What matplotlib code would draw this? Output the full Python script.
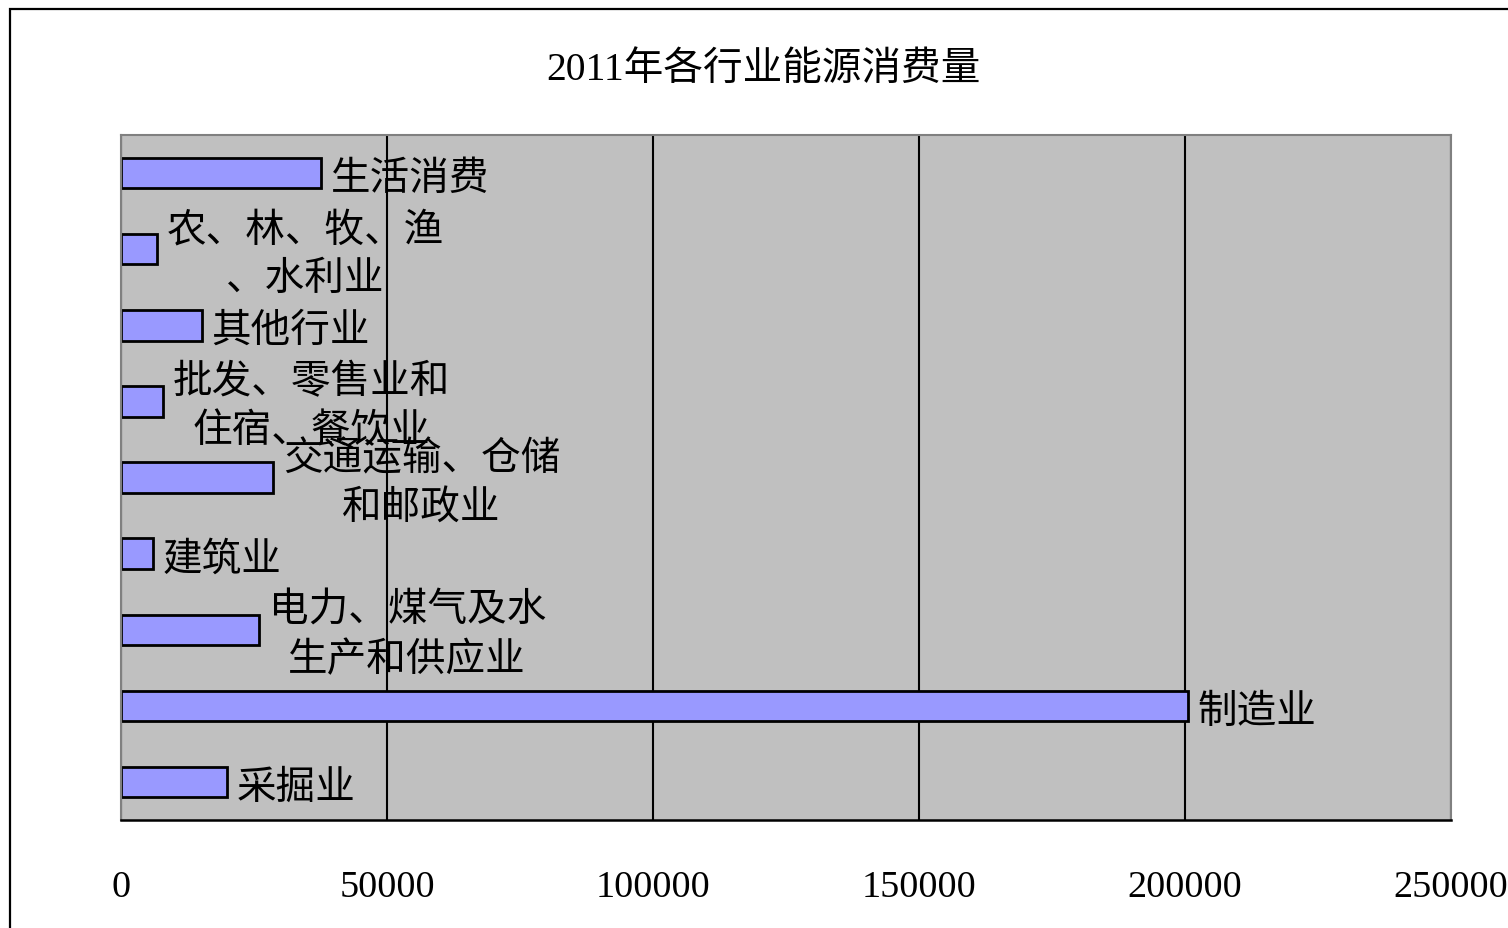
import matplotlib
matplotlib.use("Agg")
import matplotlib.pyplot as plt
from matplotlib.patches import Rectangle

plt.rcParams['font.family'] = ['Liberation Serif', 'Noto Sans CJK SC', 'DejaVu Sans']

# data (bottom to top)
categories = ["采掘业", "制造业", "电力、煤气及水\n生产和供应业", "建筑业",
              "交通运输、仓储\n和邮政业", "批发、零售业和\n住宿、餐饮业", "其他行业",
              "农、林、牧、渔\n、水利业", "生活消费"]
values = [19900, 200500, 25900, 6000, 28600, 7950, 15200, 6800, 37600]
ticks = [0, 50000, 100000, 150000, 200000, 250000]
title = "2011年各行业能源消费量"

fig = plt.figure(figsize=(15.08, 9.29), dpi=100)
ax = fig.add_axes([121 / 1508, 1 - 821 / 929, 1330 / 1508, 685 / 929])
ax.set_facecolor("#C0C0C0")

pos = list(range(len(categories)))
ax.barh(pos, values, height=0.4, color="#9999FF", edgecolor="black", linewidth=2, zorder=2)

for p, v, lab in zip(pos, values, categories):
    ax.annotate(lab, xy=(v, p), xytext=(7, -4.5), textcoords="offset points",
                ha="left", va="center", multialignment="center",
                fontsize=28.5, linespacing=1.42, zorder=3)

ax.set_xlim(0, 250000)
ax.set_ylim(-0.5, len(categories) - 0.5)
ax.set_xticks(ticks)
ax.set_xticklabels([str(t) for t in ticks], fontsize=27.5)
ax.tick_params(axis="x", length=0, pad=36)
ax.set_yticks([])
ax.set_axisbelow(True)
ax.grid(axis="x", color="black", linewidth=1.5)

for s in ["left", "top", "right"]:
    ax.spines[s].set_color("#808080")
    ax.spines[s].set_linewidth(1.5)
ax.spines["bottom"].set_color("black")
ax.spines["bottom"].set_linewidth(1.8)

fig.text(763 / 1508, 1 - 70 / 929, title, ha="center", va="center", fontsize=28.5)

# outer chart frame (cut off at right/bottom)
fig.patches.append(Rectangle((10 / 1508, -0.05), 1.1, 1.05 - 10 / 929, transform=fig.transFigure,
                             fill=False, edgecolor="black", linewidth=1.6))

fig.savefig("out.png", dpi=100)
